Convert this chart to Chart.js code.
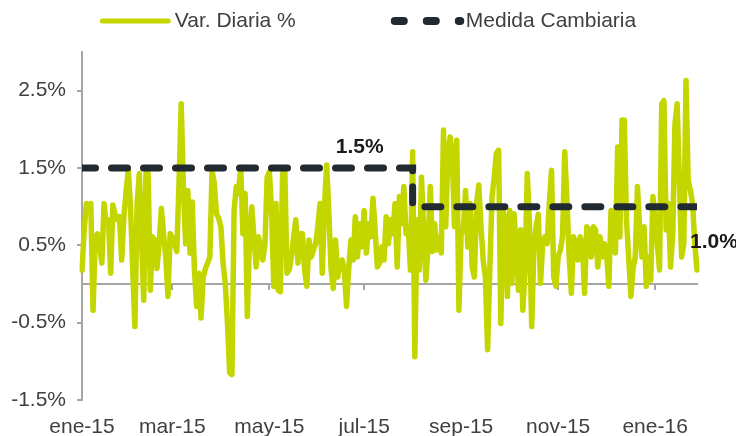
<!DOCTYPE html>
<html lang="es">
<head>
<meta charset="utf-8">
<script src="https://cdn.jsdelivr.net/npm/chart.js@4.4.1/dist/chart.umd.min.js"></script>
<style>
  html, body { margin: 0; padding: 0; background: #fff; }
  #wrap { width: 736px; height: 436px; }
</style>
</head>
<body>
<div id="wrap"><canvas id="grafico"></canvas></div>
<script>
// Variación diaria (%) por día hábil, ene-15 a ene-16
const varDiaria = [
  0.18, 0.7, 1.04, 1.0, 1.04, -0.34, 0.57, 0.65, 0.5, 0.27, 1.04, 0.78, 0.83, 0.14, 1.02, 0.9,
  0.83, 0.87, 0.31, 0.87, 1.2, 1.47, 1.0, 0.2, -0.55, 1.04, 1.43, 0.57, -0.21, 1.43, 1.43, -0.08,
  0.61, 0.57, 0.2, 0.52, 0.98, 0.65, 0.35, -0.16, 0.65, 0.6, 0.52, 0.42, 1.3, 2.33,
  1.26, 0.52, 1.21, 0.4, 1.06, 0.18, -0.29, 0.14, -0.44, 0.09, 0.2, 0.27, 0.35, 1.47, 1.3, 0.91,
  0.85, 0.74, 0.27, 0.01, -0.51, -1.15, -1.17, 0.95, 1.26, 1.17, 1.51, 0.65, 1.17, -0.42, 0.61, 1.0,
  0.61, 0.22, 0.61, 0.48, 0.31, 0.52, 1.38, 1.45, 0.95, -0.03, 1.04, -0.08, -0.1, 1.43, 1.47,
  0.14, 0.18, 0.35, 0.6, 0.83, 0.27, 0.65, 0.65, 0.18, -0.03, 0.57, 0.35, 0.44, 0.52, 0.75, 1.04,
  0.14, 1.0, 1.54, 0.91, 0.18, -0.06, 0.57, 0.09, 0.27, 0.31, 0.18, -0.29, 0.2, 0.57, 0.31, 0.87,
  0.35, 0.78, 0.48, 0.95, 0.4, 0.78, 0.61, 1.11, 0.7, 0.22, 0.27, 0.48, 0.31, 0.87,
  0.52, 0.83, 0.65, 1.04, 0.22, 1.13, 0.78, 1.26, 0.65, 0.74, 0.18, 1.71, -0.94, 0.83, 0.18, 1.38,
  0.7, 0.05, 0.48, 1.26, 0.42, 0.78, 0.44, 0.6, 0.4, 1.99, 0.74, 1.69, 1.9, 1.64, 0.74, 1.86,
  -0.34, 0.65, 0.7, 1.21, 0.48, 1.04, 0.22, 0.09, 1.04, 1.28, 0.74, 0.31, 0.09, -0.85, 0.18, 1.13,
  1.38, 1.69, 1.73, -0.51, 0.95, 0.83, -0.16, 0.95, 0.01, 0.91, 0.45, -0.08, 0.7, -0.34, 0.2, 1.43,
  0.78, -0.55, 0.44, 0.74, 0.9, 0.01, 0.52, 0.61, 0.52, 1.04, 1.47, 0.09, -0.03, 0.35, 0.44, 0.61,
  1.71, 1.08, 0.35, -0.12, 0.61, 0.52, 0.31, 0.61, 0.52, -0.12, 0.74, 0.7, 0.35,
  0.74, 0.7, 0.22, 0.61, 0.35, 0.52, 0.4, -0.03, 0.95, 0.61, 0.4, 1.77, 0.61, 2.12, 2.12, 0.83,
  0.35, -0.16, 0.2, 0.35, 1.26, 0.7, 0.35, 0.74, -0.03, 0.35, 0.05, 1.13, 0.85, 0.52, 0.18, 2.33,
  2.37, 0.7, 1.04, 0.22, 0.65, 2.07, 2.33, 1.34, 0.35, 0.52, 2.63, 1.34, 1.21, 1.04, 0.52, 0.18
];

// Medida cambiaria: nivel antes y después del cambio
const nivelesMedida = [1.5, 1.0];
const fechaCambio = "2015-07-31";
const etiquetasMedida = ["1.5%", "1.0%"];

// Ejes
const tickLabels = ["ene-15", "mar-15", "may-15", "jul-15", "sep-15", "nov-15", "ene-16"];
const yTicks = [-1.5, -0.5, 0.5, 1.5, 2.5];
const meses = ["ene", "feb", "mar", "abr", "may", "jun", "jul", "ago", "sep", "oct", "nov", "dic"];

// Días hábiles desde el 2 de enero de 2015
const fechas = [];
const dia = new Date(Date.UTC(2015, 0, 2));
while (fechas.length < varDiaria.length) {
  const dow = dia.getUTCDay();
  if (dow !== 0 && dow !== 6) fechas.push(dia.toISOString().slice(0, 10));
  dia.setUTCDate(dia.getUTCDate() + 1);
}

function mesLabel(fecha) {
  return meses[Number(fecha.slice(5, 7)) - 1] + "-" + fecha.slice(2, 4);
}

const etiquetasMes = fechas.map(mesLabel);
const tickIdx = tickLabels.map((t) => etiquetasMes.indexOf(t));
const idxCambio = fechas.indexOf(fechaCambio);
const medidaCambiaria = fechas.map((f, i) => (i < idxCambio ? nivelesMedida[0] : nivelesMedida[1]));

const fuente = '"Liberation Sans", Arial, sans-serif';
const gris = "#a6a6a6";
const colorTexto = "#404040";

// Leyenda dibujada arriba (muestra de línea + texto)
const leyendaPlugin = {
  id: "leyenda",
  afterDraw(chart) {
    const ctx = chart.ctx;
    ctx.save();
    ctx.font = "21px " + fuente;
    const t1 = chart.data.datasets[0].label;
    const t2 = chart.data.datasets[1].label;
    const w1 = 71 + 4 + ctx.measureText(t1).width;
    const w2 = 72 + 5 + ctx.measureText(t2).width;
    let x = (chart.width - (w1 + 93 + w2)) / 2;
    const y = 21;

    ctx.strokeStyle = "#c4d600";
    ctx.lineWidth = 5;
    ctx.lineCap = "round";
    ctx.beginPath();
    ctx.moveTo(x + 2.5, y);
    ctx.lineTo(x + 68.5, y);
    ctx.stroke();
    ctx.fillStyle = colorTexto;
    ctx.textBaseline = "middle";
    ctx.fillText(t1, x + 75, y);

    x += w1 + 93;
    ctx.strokeStyle = "#222a31";
    ctx.lineWidth = 8;
    ctx.setLineDash([9, 23]);
    ctx.beginPath();
    ctx.moveTo(x + 6, y);
    ctx.lineTo(x + 71.5, y);
    ctx.stroke();
    ctx.setLineDash([]);
    ctx.fillText(t2, x + 77, y);
    ctx.restore();
  },
};

// Etiquetas de nivel de la medida cambiaria
const etiquetasPlugin = {
  id: "etiquetasMedida",
  afterDatasetsDraw(chart) {
    const { ctx, scales } = chart;
    const xs = scales.x;
    const ys = scales.y;
    ctx.save();
    ctx.font = "bold 21px " + fuente;
    ctx.fillStyle = "#1a1a1a";
    ctx.textBaseline = "middle";
    ctx.textAlign = "center";
    ctx.fillText(etiquetasMedida[0], xs.getPixelForValue(idxCambio - 24), ys.getPixelForValue(nivelesMedida[0]) - 21);
    ctx.textAlign = "left";
    ctx.fillText(etiquetasMedida[1], xs.getPixelForValue(fechas.length - 1) - 7, ys.getPixelForValue(nivelesMedida[1]) + 36);
    ctx.restore();
  },
};

const soloMeses = (axis) => {
  axis.ticks = tickIdx.map((i) => ({ value: i }));
};

new Chart(document.getElementById("grafico"), {
  type: "line",
  data: {
    labels: fechas,
    datasets: [
      {
        label: "Var. Diaria %",
        data: varDiaria,
        borderColor: "#c4d600",
        borderWidth: 5.5,
        borderJoinStyle: "round",
        borderCapStyle: "round",
        pointRadius: 0,
        tension: 0,
        order: 1,
      },
      {
        label: "Medida Cambiaria",
        data: medidaCambiaria,
        borderColor: "#222a31",
        borderWidth: 7,
        borderDash: [16, 16],
        borderDashOffset: 2.5,
        borderCapStyle: "round",
        stepped: true,
        pointRadius: 0,
        clip: 0,
        order: 0,
      },
    ],
  },
  options: {
    responsive: true,
    maintainAspectRatio: false,
    animation: false,
    layout: { padding: { top: 52, right: 39, bottom: 0, left: 0 } },
    plugins: {
      legend: { display: false },
      tooltip: { enabled: false },
    },
    scales: {
      x: {
        type: "category",
        afterBuildTicks: soloMeses,
        afterFit: (s) => { s.height = 36; },
        grid: { display: false, drawTicks: false },
        border: { display: false },
        ticks: {
          autoSkip: false,
          maxRotation: 0,
          padding: 15,
          color: colorTexto,
          font: { family: fuente, size: 21 },
          callback: (v) => etiquetasMes[v],
        },
      },
      x2: {
        type: "category",
        position: { y: 0 },
        afterBuildTicks: soloMeses,
        grid: { drawOnChartArea: false, tickLength: 5, color: gris, lineWidth: 2 },
        border: { color: gris, width: 2 },
        ticks: { display: false },
      },
      y: {
        min: -1.5,
        max: 3.0,
        afterBuildTicks: (axis) => { axis.ticks = yTicks.map((v) => ({ value: v })); },
        afterFit: (s) => { s.width = 82; },
        grid: { drawOnChartArea: false, tickLength: 5, color: gris, lineWidth: 2 },
        border: { color: gris, width: 2 },
        ticks: {
          padding: 11,
          color: colorTexto,
          font: { family: fuente, size: 21 },
          callback: (v) => v.toFixed(1) + "%",
        },
      },
    },
  },
  plugins: [leyendaPlugin, etiquetasPlugin],
});
</script>
</body>
</html>
